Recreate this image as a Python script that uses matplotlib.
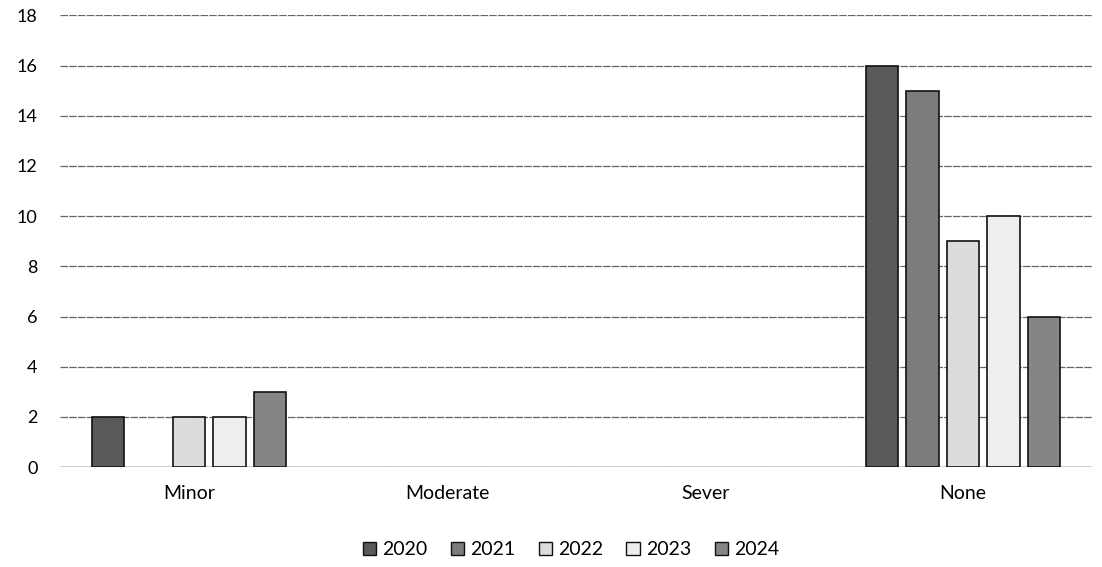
import matplotlib
matplotlib.use("Agg")
import matplotlib.pyplot as plt
import numpy as np

plt.rcParams['font.family'] = ['Lato', 'DejaVu Sans']

categories = ["Minor", "Moderate", "Sever", "None"]
years = ["2020", "2021", "2022", "2023", "2024"]
v2020 = [2, 0, 0, 16]
v2021 = [0, 0, 0, 15]
v2022 = [2, 0, 0, 9]
v2023 = [2, 0, 0, 10]
v2024 = [3, 0, 0, 6]
series = [v2020, v2021, v2022, v2023, v2024]
colors = ["#5a5a5a", "#7c7c7c", "#dcdcdc", "#eeeeee", "#858585"]

fig = plt.figure(figsize=(11.02, 5.67), dpi=100)
ax = fig.add_axes([0.0544, 0.176, 0.9366, 0.797])

x = np.arange(len(categories))
slot = 0.157
bw = 0.127
for i, (vals, c) in enumerate(zip(series, colors)):
    # zero-height bars have no visible outline in the original
    lws = [1.2 if v > 0 else 0 for v in vals]
    ax.bar(x + (i - 2) * slot, vals, width=bw, color=c, edgecolor="#111111",
           linewidth=lws, label=years[i], zorder=3)

ax.set_xlim(-0.5, len(categories) - 0.5)
ax.set_ylim(0, 18)
ax.set_yticks(range(0, 19, 2))
ax.set_xticks(x)
ax.set_xticklabels(categories, fontsize=14)
ax.tick_params(axis="y", labelsize=13, length=0, pad=16)
ax.tick_params(axis="x", length=0, pad=13)
ax.grid(axis="y", color="#666666", linewidth=0.9, linestyle=(0, (6, 1)), zorder=0)
for s in ax.spines.values():
    s.set_visible(False)
ax.axhline(0, color="#555555", linewidth=1.0, zorder=2)

leg = ax.legend(loc="upper center", bbox_to_anchor=(0.495, -0.125), ncol=5, frameon=False,
                fontsize=14, handlelength=0.7, handleheight=0.7, handletextpad=0.3,
                columnspacing=1.2)
for h in leg.legend_handles:
    h.set_edgecolor("#111111")
    h.set_linewidth(1.0)

fig.savefig("out.png", dpi=100)
